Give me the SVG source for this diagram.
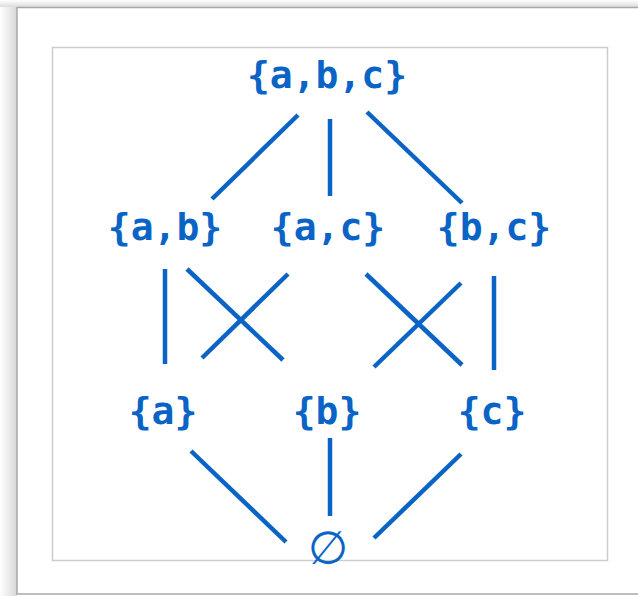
<svg xmlns="http://www.w3.org/2000/svg" width="638" height="596" viewBox="0 0 638 596">
  <defs>
    <linearGradient id="shL" x1="0" y1="0" x2="1" y2="0">
      <stop offset="0" stop-color="#ffffff"/>
      <stop offset="1" stop-color="#d8d8d8"/>
    </linearGradient>
    <linearGradient id="shT" x1="0" y1="0" x2="0" y2="1">
      <stop offset="0" stop-color="#ffffff"/>
      <stop offset="1" stop-color="#dcdcdc"/>
    </linearGradient>
  </defs>
  <style>
    .lbl { font-family: "DejaVu Sans Mono", monospace; font-weight: bold; font-size: 38px; fill: #0a64c6; text-anchor: middle; }
    .edge { stroke: #0a64c6; stroke-width: 4.5; fill: none; }
  </style>
  <rect x="0" y="0" width="638" height="596" fill="#ffffff"/>
  <rect x="0" y="0" width="17" height="596" fill="url(#shL)"/>
  <rect x="0" y="0" width="638" height="7" fill="url(#shT)"/>
  <rect x="17" y="7.5" width="640" height="586.5" fill="#ffffff" stroke="#a8a8a8" stroke-width="1.5"/>
  <rect x="52.5" y="47.5" width="555" height="513" fill="#ffffff" stroke="#cccccc" stroke-width="1.5"/>

  <g id="connectors">
    <line class="edge" x1="298" y1="115" x2="212" y2="199"/>
    <line class="edge" x1="330" y1="119" x2="330" y2="196"/>
    <line class="edge" x1="367" y1="112" x2="462" y2="203"/>
    <line class="edge" x1="165" y1="269" x2="165" y2="364"/>
    <line class="edge" x1="187" y1="269" x2="283" y2="360"/>
    <line class="edge" x1="288" y1="274" x2="202" y2="358"/>
    <line class="edge" x1="366" y1="274" x2="462" y2="365"/>
    <line class="edge" x1="461" y1="283" x2="374" y2="367"/>
    <line class="edge" x1="494" y1="276" x2="494" y2="370"/>
    <line class="edge" x1="191" y1="451" x2="286" y2="542"/>
    <line class="edge" x1="330" y1="438" x2="330" y2="516"/>
    <line class="edge" x1="461" y1="454" x2="374" y2="538"/>
  </g>

  <g id="abc"><text class="lbl" x="327" y="88">{a,b,c}</text></g>
  <g id="ab"><text class="lbl" x="165" y="240">{a,b}</text></g>
  <g id="ac"><text class="lbl" x="328" y="240">{a,c}</text></g>
  <g id="bc"><text class="lbl" x="494" y="240">{b,c}</text></g>
  <g id="a"><text class="lbl" x="163" y="424">{a}</text></g>
  <g id="b"><text class="lbl" x="327" y="424">{b}</text></g>
  <g id="c"><text class="lbl" x="492" y="424">{c}</text></g>
  <g id="empty"><text class="lbl" x="328" y="564" style="font-family:'DejaVu Sans',sans-serif;font-weight:normal;font-size:46px">∅</text></g>
</svg>
